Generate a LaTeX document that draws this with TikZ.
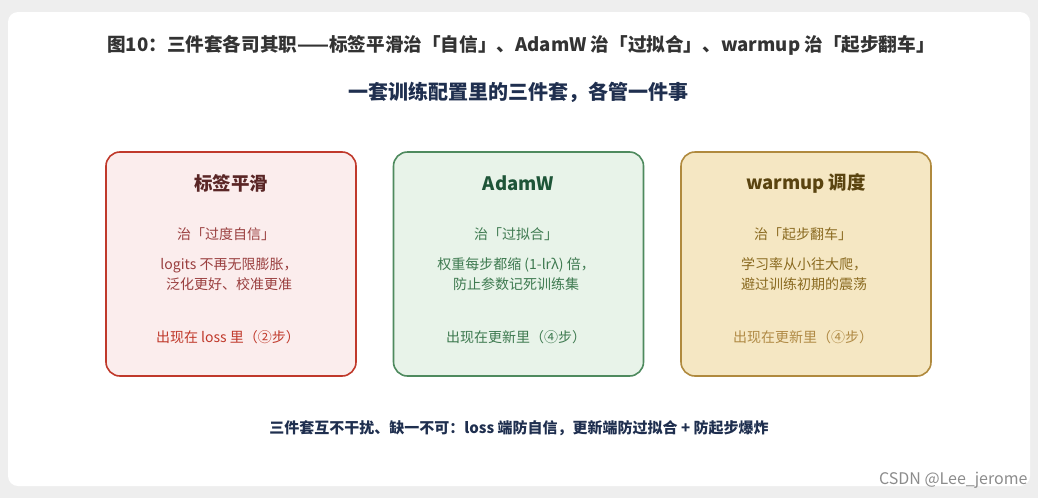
\documentclass[tikz,border=0pt]{standalone}
\usepackage{fontspec}
\setmainfont{Noto Sans CJK SC}
\usetikzlibrary{positioning}
\definecolor{pageback}{HTML}{EEEEEE}
\definecolor{headtext}{HTML}{333333}
\definecolor{navytext}{HTML}{1F2F4F}
\definecolor{lsdraw}{HTML}{C0392B}
\definecolor{lsfill}{HTML}{FBEDED}
\definecolor{lshead}{HTML}{5A2626}
\definecolor{lsbody}{HTML}{9A3F3F}
\definecolor{awdraw}{HTML}{4E8A5E}
\definecolor{awfill}{HTML}{E8F3E9}
\definecolor{awhead}{HTML}{1E5538}
\definecolor{awbody}{HTML}{3E7A50}
\definecolor{wudraw}{HTML}{B08A3E}
\definecolor{wufill}{HTML}{F5E7C3}
\definecolor{wuhead}{HTML}{5A4410}
\definecolor{wubody}{HTML}{8A6A20}
\definecolor{wufoot}{HTML}{B08A45}
\tikzset{
  card/.style={
    % The shape:
    rectangle, rounded corners=14pt,
    % The size:
    minimum width=250pt, minimum height=224pt,
    % The border:
    line width=1.6pt},
  cardhead/.style={font=\fontsize{18.5}{22}\selectfont\bfseries},
  cardtext/.style={font=\fontsize{14}{20}\selectfont, align=center},
}
\begin{document}
\begin{tikzpicture}[x=1pt,y=-1pt]
  \fill[pageback] (0,0) rectangle (1038,498);
  \fill[white, rounded corners=10pt] (8,12) rectangle (1030,486);

  \node (title) [text=headtext, font=\fontsize{18.6}{22}\selectfont\bfseries] at (521,45)
    {图10：三件套各司其职——标签平滑治「自信」、AdamW 治「过拟合」、warmup 治「起步翻车」};
  \node (subtitle) [text=navytext, font=\fontsize{20}{24}\selectfont\bfseries] at (518,92)
    {一套训练配置里的三件套，各管一件事};

  % the three cards
  \node (ls) [card, draw=lsdraw, fill=lsfill] at (231,264) {};
  \node (aw) [card, draw=awdraw, fill=awfill] at (518.5,264) {};
  \node (wu) [card, draw=wudraw, fill=wufill] at (806,264) {};

  \node (lshead) [cardhead, text=lshead] at (231,183) {标签平滑};
  \node (lscure) [cardtext, text=lsbody] at (226,234) {治「过度自信」};
  \node (lsbody) [cardtext, text=lsbody] at (229,274) {logits 不再无限膨胀，\\ 泛化更好、校准更准};
  \node (lsfoot) [cardtext, text=lsdraw] at (228,337) {出现在 loss 里（②步）};

  \node (awhead) [cardhead, text=awhead] at (518.5,183) {AdamW};
  \node (awcure) [cardtext, text=awbody] at (516,234) {治「过拟合」};
  \node (awbody) [cardtext, text=awbody] at (516,274) {权重每步都缩 (1-lrλ) 倍，\\ 防止参数记死训练集};
  \node (awfoot) [cardtext, text=awbody] at (516,337) {出现在更新里（④步）};

  \node (wuhead) [cardhead, text=wuhead] at (806,183) {warmup 调度};
  \node (wucure) [cardtext, text=wubody] at (803,234) {治「起步翻车」};
  \node (wubody) [cardtext, text=wubody] at (804,274) {学习率从小往大爬，\\ 避过训练初期的震荡};
  \node (wufoot) [cardtext, text=wufoot] at (803,337) {出现在更新里（④步）};

  \node (footer) [text=navytext, font=\fontsize{15}{18}\selectfont\bfseries] at (519,428)
    {三件套互不干扰、缺一不可：loss 端防自信，更新端防过拟合 + 防起步爆炸};
  \node (mark) [text=black!45, font=\fontsize{16}{18}\selectfont, anchor=east] at (1031,480)
    {CSDN @Lee\_jerome};
\end{tikzpicture}
\end{document}
